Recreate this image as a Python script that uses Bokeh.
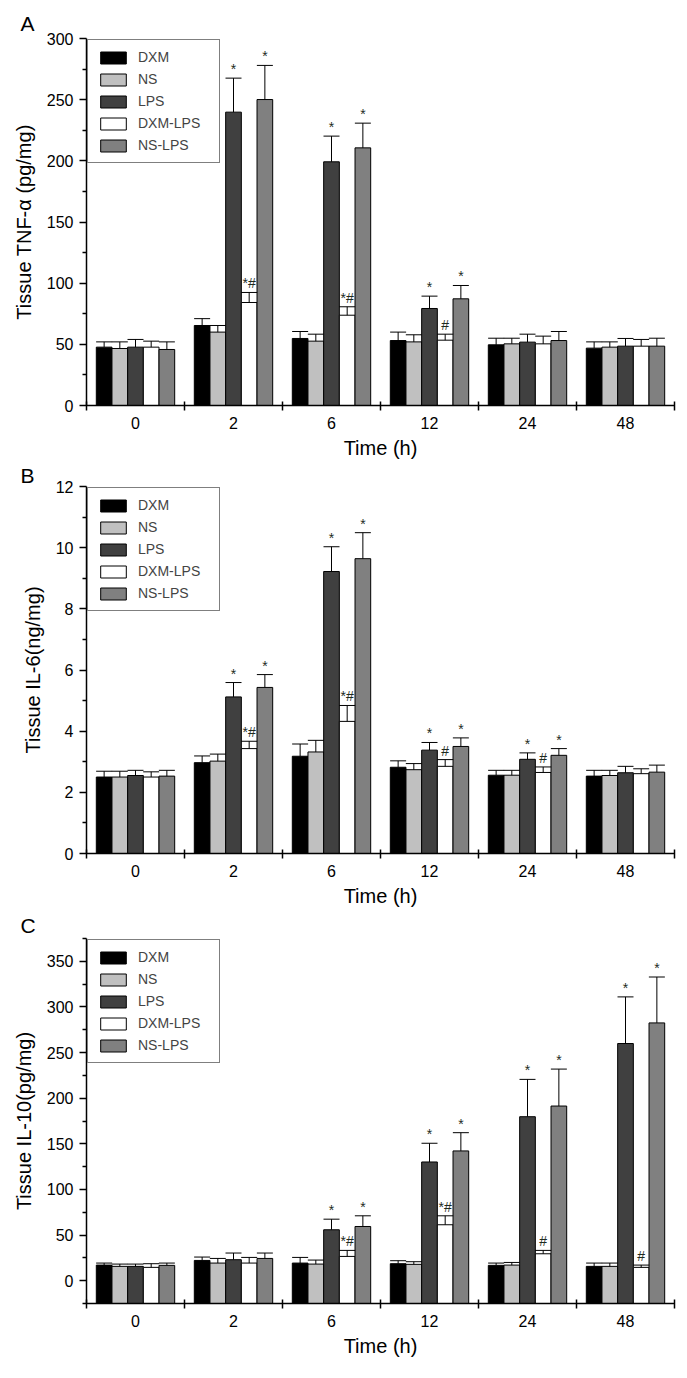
from bokeh.plotting import figure
from bokeh.layouts import column
from bokeh.models import (Range1d, FixedTicker, Legend, LegendItem, Whisker, TeeHead,
                          ColumnDataSource)
from bokeh.core.properties import value
from bokeh.embed import file_html
from bokeh.resources import INLINE

times = ["0", "2", "6", "12", "24", "48"]
groups = ["DXM", "NS", "LPS", "DXM-LPS", "NS-LPS"]

# Panel A: Tissue TNF-alpha (pg/mg)
tnf_DXM = [47.7, 65.4, 54.8, 53.1, 49.6, 46.9]
tnf_DXM_sd = [4.3, 5.6, 5.7, 6.9, 5.4, 5.1]
tnf_NS = [46.6, 60.0, 52.6, 52.0, 50.4, 47.7]
tnf_NS_sd = [5.4, 5.4, 5.7, 5.8, 4.6, 4.3]
tnf_LPS = [47.7, 239.8, 199.2, 79.3, 51.8, 48.5]
tnf_LPS_sd = [6.3, 27.8, 21.0, 10.1, 6.5, 6.3]
tnf_DXMLPS = [47.7, 84.2, 73.8, 53.4, 50.4, 48.5]
tnf_DXMLPS_sd = [4.9, 8.2, 6.9, 4.9, 6.3, 5.5]
tnf_NSLPS = [45.8, 250.1, 210.6, 87.2, 53.1, 48.5]
tnf_NSLPS_sd = [6.2, 27.9, 20.2, 10.9, 7.4, 6.5]
tnf_marks_LPS = ["", "*", "*", "*", "", ""]
tnf_marks_DXMLPS = ["", "*#", "*#", "#", "", ""]
tnf_marks_NSLPS = ["", "*", "*", "*", "", ""]

# Panel B: Tissue IL-6 (ng/mg)
il6_DXM = [2.50, 2.97, 3.18, 2.82, 2.56, 2.53]
il6_DXM_sd = [0.19, 0.22, 0.40, 0.21, 0.16, 0.19]
il6_NS = [2.50, 3.02, 3.32, 2.74, 2.56, 2.55]
il6_NS_sd = [0.19, 0.23, 0.38, 0.20, 0.16, 0.17]
il6_LPS = [2.55, 5.12, 9.22, 3.38, 3.08, 2.64]
il6_LPS_sd = [0.17, 0.47, 0.81, 0.25, 0.21, 0.21]
il6_DXMLPS = [2.50, 3.43, 4.32, 2.85, 2.65, 2.61]
il6_DXMLPS_sd = [0.17, 0.24, 0.52, 0.22, 0.18, 0.16]
il6_NSLPS = [2.53, 5.43, 9.64, 3.50, 3.21, 2.66]
il6_NSLPS_sd = [0.19, 0.42, 0.85, 0.28, 0.22, 0.23]
il6_marks_LPS = ["", "*", "*", "*", "*", ""]
il6_marks_DXMLPS = ["", "*#", "*#", "#", "#", ""]
il6_marks_NSLPS = ["", "*", "*", "*", "*", ""]

# Panel C: Tissue IL-10 (pg/mg)
il10_DXM = [17.1, 22.2, 19.3, 18.6, 16.8, 15.7]
il10_DXM_sd = [2.2, 3.7, 6.2, 3.3, 2.5, 3.6]
il10_NS = [15.7, 19.3, 18.2, 17.9, 17.1, 15.7]
il10_NS_sd = [2.5, 5.1, 4.4, 2.9, 2.9, 3.6]
il10_LPS = [15.7, 23.0, 55.8, 130.1, 179.7, 259.9]
il10_LPS_sd = [2.5, 7.3, 11.6, 20.5, 40.9, 51.1]
il10_DXMLPS = [14.6, 19.3, 26.6, 61.3, 29.5, 14.6]
il10_DXMLPS_sd = [4.0, 6.2, 6.6, 9.8, 3.7, 2.5]
il10_NSLPS = [16.8, 24.4, 59.4, 142.2, 191.4, 282.5]
il10_NSLPS_sd = [2.5, 5.9, 11.7, 20.0, 40.5, 50.3]
il10_marks_LPS = ["", "", "*", "*", "*", "*"]
il10_marks_DXMLPS = ["", "", "*#", "*#", "#", "#"]
il10_marks_NSLPS = ["", "", "*", "*", "*", "*"]

FILLS = ["#000000", "#c0c0c0", "#404040", "#ffffff", "#808080"]
FONT = "Liberation Sans"
BAR_W = 0.16


def make_panel(letter, ylabel, y0, y1, yticks, yminor, means, sds, marks,
               frame_h, top_border, title_standoff):
    p = figure(frame_width=588, frame_height=frame_h,
               x_range=Range1d(0, len(times)), y_range=Range1d(y0, y1),
               output_backend="svg", toolbar_location=None,
               min_border_left=86, min_border_right=4,
               min_border_top=top_border, min_border_bottom=50)
    p.outline_line_color = None
    p.grid.visible = False
    p.background_fill_color = "white"

    p.title.text = letter
    p.title.align = "left"
    p.title.offset = -66
    p.title.text_font = FONT
    p.title.text_font_size = "21px"
    p.title.text_font_style = "normal"
    p.title.text_color = "black"
    p.title.standoff = title_standoff

    # x axis: labels at category centres, ticks at boundaries
    xa = p.xaxis[0]
    centers = [i + 0.5 for i in range(len(times))]
    xa.ticker = FixedTicker(ticks=centers, minor_ticks=list(range(len(times) + 1)))
    xa.major_label_overrides = {c: t for c, t in zip(centers, times)}
    xa.major_tick_in = 0
    xa.major_tick_out = 0
    xa.minor_tick_in = 4
    xa.minor_tick_out = 5
    xa.minor_tick_line_color = "black"
    xa.minor_tick_line_width = 1.5
    xa.axis_line_width = 1.5
    xa.axis_line_color = "black"
    xa.major_label_standoff = 6
    xa.major_label_text_font = FONT
    xa.major_label_text_font_size = "16px"
    xa.major_label_text_color = "black"
    xa.axis_label = "Time (h)"
    xa.axis_label_text_font = FONT
    xa.axis_label_text_font_size = "20px"
    xa.axis_label_text_font_style = "normal"
    xa.axis_label_text_color = "black"
    xa.axis_label_standoff = 5

    ya = p.yaxis[0]
    ya.ticker = FixedTicker(ticks=yticks, minor_ticks=yminor)
    ya.major_tick_in = 0
    ya.major_tick_out = 7
    ya.minor_tick_in = 0
    ya.minor_tick_out = 4
    ya.major_tick_line_width = 1.5
    ya.minor_tick_line_width = 1.5
    ya.major_tick_line_color = "black"
    ya.minor_tick_line_color = "black"
    ya.axis_line_width = 1.5
    ya.axis_line_color = "black"
    ya.major_label_standoff = 6
    ya.major_label_text_font = FONT
    ya.major_label_text_font_size = "16px"
    ya.major_label_text_color = "black"
    ya.axis_label = ylabel
    ya.axis_label_text_font = FONT
    ya.axis_label_text_font_size = "20px"
    ya.axis_label_text_font_style = "normal"
    ya.axis_label_text_color = "black"
    ya.axis_label_standoff = 9

    items = []
    for j, g in enumerate(groups):
        xs = [i + 0.5 + (j - 2) * BAR_W for i in range(len(times))]
        m = means[j]
        up = [a + b for a, b in zip(m, sds[j])]
        src = ColumnDataSource(dict(x=xs, top=m, upper=up,
                                    bottom=[y0] * len(m)))
        r = p.vbar(x="x", top="top", bottom="bottom", width=BAR_W, source=src,
                   fill_color=FILLS[j], line_color="black", line_width=1)
        w = Whisker(source=src, base="x", upper="upper", lower="top",
                    dimension="height", line_color="black", line_width=1,
                    upper_head=TeeHead(size=16, line_color="black", line_width=1),
                    lower_head=None, level="annotation")
        p.add_layout(w)
        items.append(LegendItem(label=g, renderers=[r]))
        mk = marks.get(g)
        if mk:
            msrc = ColumnDataSource(dict(x=xs, y=up, t=mk))
            p.text(x="x", y="y", text="t", source=msrc,
                   text_font=value(FONT), text_font_size="14px",
                   text_align="center", text_baseline="bottom",
                   text_color="#1e2a1e", y_offset=-1)

    leg = Legend(items=items, location="top_left", margin=1, padding=9,
                 spacing=6, glyph_width=32, glyph_height=15, label_height=15,
                 label_width=72, label_standoff=9,
                 label_text_font=FONT, label_text_font_size="14px",
                 border_line_color="black", border_line_width=1,
                 background_fill_color="white", background_fill_alpha=1)
    p.add_layout(leg)
    return p


pA = make_panel("A", "Tissue TNF-\u03b1 (pg/mg)", 0, 300,
                list(range(0, 301, 50)), list(range(25, 300, 50)),
                [tnf_DXM, tnf_NS, tnf_LPS, tnf_DXMLPS, tnf_NSLPS],
                [tnf_DXM_sd, tnf_NS_sd, tnf_LPS_sd, tnf_DXMLPS_sd, tnf_NSLPS_sd],
                {"LPS": tnf_marks_LPS, "DXM-LPS": tnf_marks_DXMLPS, "NS-LPS": tnf_marks_NSLPS},
                367, 38, 7)
pB = make_panel("B", "Tissue IL-6(ng/mg)", 0, 12,
                list(range(0, 13, 2)), list(range(1, 12, 2)),
                [il6_DXM, il6_NS, il6_LPS, il6_DXMLPS, il6_NSLPS],
                [il6_DXM_sd, il6_NS_sd, il6_LPS_sd, il6_DXMLPS_sd, il6_NSLPS_sd],
                {"LPS": il6_marks_LPS, "DXM-LPS": il6_marks_DXMLPS, "NS-LPS": il6_marks_NSLPS},
                367, 16, 0)
pC = make_panel("C", "Tissue IL-10(pg/mg)", -25, 375,
                list(range(0, 351, 50)), list(range(-25, 376, 50)),
                [il10_DXM, il10_NS, il10_LPS, il10_DXMLPS, il10_NSLPS],
                [il10_DXM_sd, il10_NS_sd, il10_LPS_sd, il10_DXMLPS_sd, il10_NSLPS_sd],
                {"LPS": il10_marks_LPS, "DXM-LPS": il10_marks_DXMLPS, "NS-LPS": il10_marks_NSLPS},
                365, 24, 4)

layout = column(pA, pB, pC, spacing=0)
open("out.html", "w").write(file_html(layout, INLINE))
